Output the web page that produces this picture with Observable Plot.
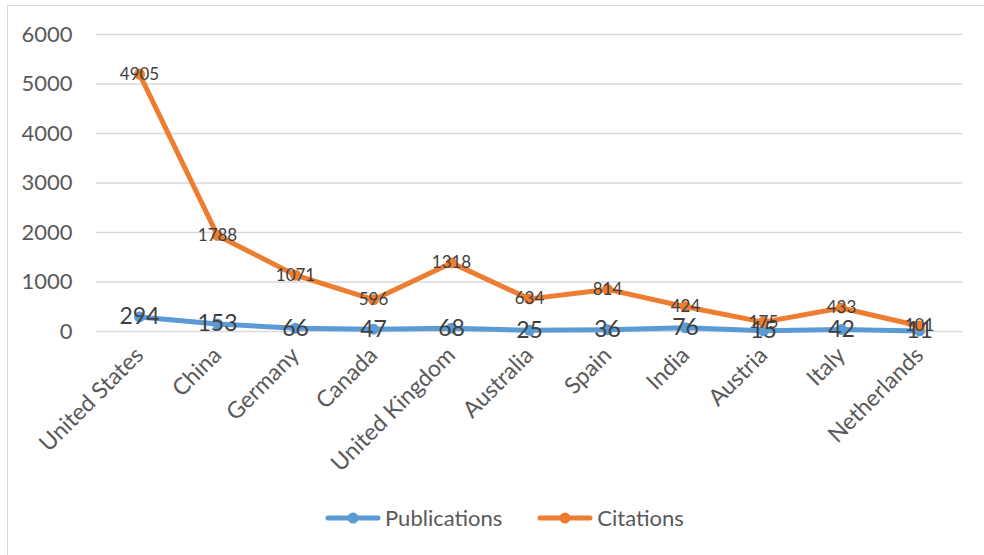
<!DOCTYPE html>
<html>
<head>
<meta charset="utf-8">
<script src="https://cdn.jsdelivr.net/npm/d3@7"></script>
<script src="https://cdn.jsdelivr.net/npm/@observablehq/plot@0.6"></script>
<style>
  html, body { margin: 0; padding: 0; background: #fff; }
  body { width: 984px; height: 555px; position: relative; overflow: hidden; font-family: Lato, "Open Sans", sans-serif; }
  #frame { position: absolute; left: 7px; top: 5px; width: 1000px; height: 600px;
           border-left: 1.5px solid #d9d9d9; border-top: 1.5px solid #d9d9d9; box-sizing: border-box; }
  #chart { position: absolute; left: 0; top: 0; }
  #legend { position: absolute; left: 325px; top: 504px; display: flex; align-items: center;
            font-size: 22px; color: #595959; }
  .item { display: flex; align-items: center; }
  .item svg { margin-right: 4px; }
</style>
</head>
<body>
<div id="frame"></div>
<div id="chart"></div>
<div id="legend"></div>
<script>
// Countries ranked by publication count, with their citation totals
const countries = ["United States", "China", "Germany", "Canada", "United Kingdom", "Australia", "Spain", "India", "Austria", "Italy", "Netherlands"];
const publications = [294, 153, 66, 47, 68, 25, 36, 76, 15, 42, 11];
const citations = [4905, 1788, 1071, 596, 1318, 634, 814, 424, 175, 433, 101];
const seriesNames = ["Publications", "Citations"];
const seriesColors = ["#5b9bd5", "#ed7d31"];
const yTicks = [0, 1000, 2000, 3000, 4000, 5000, 6000];

// Long-format rows; within each country Publications comes first so it sits at the bottom of the stack
const rows = countries.flatMap((country, i) => [
  {country, series: seriesNames[0], value: publications[i]},
  {country, series: seriesNames[1], value: citations[i]}
]);

const W = 984, H = 480;
const stacked = (opts) => Plot.stackY2({x: "country", y: "value", z: "series", order: null, ...opts});

const chart = Plot.plot({
  width: W,
  height: H,
  marginLeft: 96,
  marginRight: 22,
  marginTop: 34,
  marginBottom: H - 331,
  style: {fontFamily: "Lato, 'Open Sans', sans-serif", fontSize: "22px", color: "#595959", background: "transparent"},
  x: {type: "point", domain: countries, padding: 0.5},
  y: {domain: [0, 6000]},
  color: {domain: seriesNames, range: seriesColors},
  marks: [
    Plot.ruleY(yTicks, {stroke: "#d9d9d9", strokeWidth: 1.5}),
    Plot.axisY({ticks: yTicks, tickFormat: d => String(d), tickSize: 0, tickPadding: 24, label: null, fontSize: 22}),
    Plot.axisX({tickSize: 0, tickRotate: -45, tickPadding: 20, label: null, fontSize: 23}),
    Plot.lineY(rows, stacked({stroke: "series", strokeWidth: 5, strokeLinejoin: "round", strokeLinecap: "round"})),
    Plot.dot(rows, stacked({fill: "series", r: 5.5, stroke: null})),
    Plot.text(rows, stacked({
      text: d => String(d.value),
      fill: "#404040",
      fontSize: d => d.series === "Publications" ? 23 : 17
    }))
  ]
});
document.getElementById("chart").appendChild(chart);

// Legend: line-with-marker swatch followed by the series name
const legend = document.getElementById("legend");
seriesNames.forEach((name, i) => {
  const item = document.createElement("div");
  item.className = "item";
  if (i > 0) item.style.marginLeft = "35px";
  item.innerHTML = `<svg width="56" height="14"><line x1="3" y1="7" x2="53" y2="7" stroke="${seriesColors[i]}" stroke-width="5" stroke-linecap="round"/><circle cx="28" cy="7" r="5.5" fill="${seriesColors[i]}"/></svg><span>${name}</span>`;
  legend.appendChild(item);
});
</script>
</body>
</html>
